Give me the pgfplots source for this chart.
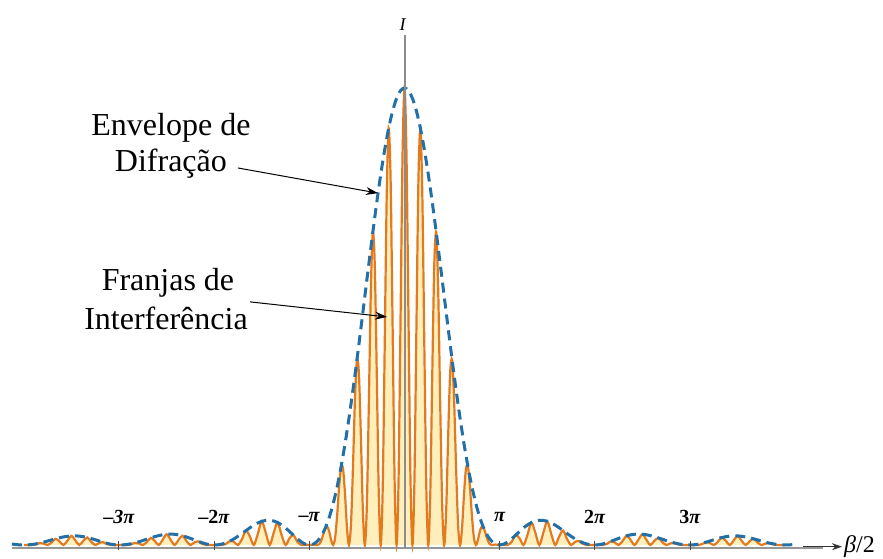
\documentclass[border=0pt]{standalone}
\usepackage{pgfplots}
\pgfplotsset{compat=1.18}
\usepackage{pgfplotstable}
\usetikzlibrary{arrows.meta}
\usepackage{fontspec}
\setmainfont{Liberation Serif}

\definecolor{fringe}{RGB}{228,122,30}
\definecolor{fringefill}{RGB}{255,239,188}
\definecolor{env}{RGB}{35,112,168}
\definecolor{axisgray}{RGB}{150,150,150}
\tikzset{ticklab/.style={inner sep=0pt, font=\fontsize{10}{11}\selectfont\bfseries}}

% x in units of pi/48 (beta/2), y = relative intensity
\pgfplotstableread{
k I
-192 0
-190 0.00013
-188 0
-186 0.00119
-184 0.00414
-182 0.00314
-180 0
-178 0.00557
-176 0.01356
-174 0.00790
-172 0
-170 0.00953
-168 0.01985
-166 0.01000
-164 0
-162 0.00911
-160 0.01641
-158 0.00707
-156 0
-154 0.00438
-152 0.00606
-150 0.00183
-148 0
-146 0.00023
-144 0
-142 0.00015
-140 0
-138 0.00130
-136 0.00457
-134 0.00350
-132 0
-130 0.00631
-128 0.01549
-126 0.00910
-124 0
-122 0.01118
-120 0.02351
-118 0.01195
-116 0
-114 0.01112
-112 0.02024
-110 0.00881
-108 0
-106 0.00558
-104 0.00782
-102 0.00238
-100 0
-98 0.00030
-96 0
-94 0.00026
-92 0
-90 0.00243
-88 0.00867
-86 0.00673
-84 0
-82 0.01257
-80 0.03146
-78 0.01883
-76 0
-74 0.02410
-72 0.05179
-70 0.02693
-68 0
-66 0.02630
-64 0.04916
-62 0.02198
-60 0
-58 0.01479
-56 0.02140
-54 0.00674
-52 0
-50 0.00092
-48 0
-47 0.00038
-46 0.00094
-45 0.00064
-44 0
-43 0.00191
-42 0.00969
-41 0.02319
-40 0.03648
-39 0.04043
-38 0.02996
-37 0.01086
-36 0
-35 0.01578
-34 0.06355
-33 0.12650
-32 0.17098
-31 0.16678
-30 0.11070
-29 0.03645
-28 0
-27 0.04511
-26 0.16973
-25 0.31744
-24 0.40528
-23 0.37506
-22 0.23705
-21 0.07457
-20 0
-19 0.08492
-18 0.30750
-17 0.55459
-16 0.68391
-15 0.61224
-14 0.37483
-13 0.11435
-12 0
-11 0.12283
-10 0.43256
-9 0.75929
-8 0.91189
-7 0.79548
-6 0.47482
-5 0.14130
-4 0
-3 0.14458
-2 0.49715
-1 0.85233
0 1.00000
1 0.85233
2 0.49715
3 0.14458
4 0
5 0.14130
6 0.47482
7 0.79548
8 0.91189
9 0.75929
10 0.43256
11 0.12283
12 0
13 0.11435
14 0.37483
15 0.61224
16 0.68391
17 0.55459
18 0.30750
19 0.08492
20 0
21 0.07457
22 0.23705
23 0.37506
24 0.40528
25 0.31744
26 0.16973
27 0.04511
28 0
29 0.03645
30 0.11070
31 0.16678
32 0.17098
33 0.12650
34 0.06355
35 0.01578
36 0
37 0.01086
38 0.02996
39 0.04043
40 0.03648
41 0.02319
42 0.00969
43 0.00191
44 0
45 0.00064
46 0.00094
47 0.00038
48 0
50 0.00092
52 0
54 0.00674
56 0.02140
58 0.01479
60 0
62 0.02198
64 0.04916
66 0.02630
68 0
70 0.02693
72 0.05179
74 0.02410
76 0
78 0.01883
80 0.03146
82 0.01257
84 0
86 0.00673
88 0.00867
90 0.00243
92 0
94 0.00026
96 0
98 0.00030
100 0
102 0.00238
104 0.00782
106 0.00558
108 0
110 0.00881
112 0.02024
114 0.01112
116 0
118 0.01195
120 0.02351
122 0.01118
124 0
126 0.00910
128 0.01549
130 0.00631
132 0
134 0.00350
136 0.00457
138 0.00130
140 0
142 0.00015
144 0
146 0.00023
148 0
150 0.00183
152 0.00606
154 0.00438
156 0
158 0.00707
160 0.01641
162 0.00911
164 0
166 0.01000
168 0.01985
170 0.00953
172 0
174 0.00790
176 0.01356
178 0.00557
180 0
182 0.00314
184 0.00414
186 0.00119
188 0
190 0.00013
192 0
}\fringes

\pgfplotstableread{
k E
-198 0.00209
-196 0.00098
-194 0.00025
-192 0
-190 0.00026
-188 0.00106
-186 0.00237
-184 0.00414
-182 0.00627
-180 0.00865
-178 0.01113
-176 0.01356
-174 0.01580
-172 0.01767
-170 0.01906
-168 0.01985
-166 0.01999
-164 0.01944
-162 0.01822
-160 0.01641
-158 0.01413
-156 0.01151
-154 0.00876
-152 0.00606
-150 0.00365
-148 0.00171
-146 0.00045
-144 0
-142 0.00029
-140 0.00116
-138 0.00260
-136 0.00457
-134 0.00699
-132 0.00971
-130 0.01261
-128 0.01549
-126 0.01820
-124 0.02054
-122 0.02235
-120 0.02351
-118 0.02390
-116 0.02347
-114 0.02223
-112 0.02024
-110 0.01761
-108 0.01451
-106 0.01116
-104 0.00782
-102 0.00476
-100 0.00227
-98 0.00060
-96 0
-94 0.00052
-92 0.00213
-90 0.00485
-88 0.00867
-86 0.01345
-84 0.01902
-82 0.02513
-80 0.03146
-78 0.03766
-76 0.04337
-74 0.04819
-72 0.05179
-70 0.05385
-68 0.05417
-66 0.05260
-64 0.04916
-62 0.04396
-60 0.03729
-58 0.02957
-56 0.02140
-54 0.01348
-52 0.00665
-50 0.00183
-48 0
-46 0.00188
-44 0.00808
-42 0.01938
-40 0.03648
-38 0.05991
-36 0.09007
-34 0.12710
-32 0.17098
-30 0.22140
-28 0.27781
-26 0.33945
-24 0.40528
-22 0.47410
-20 0.54451
-18 0.61500
-16 0.68391
-14 0.74965
-12 0.81057
-10 0.86512
-8 0.91189
-6 0.94963
-4 0.97736
-2 0.99430
0 1
2 0.99430
4 0.97736
6 0.94963
8 0.91189
10 0.86512
12 0.81057
14 0.74965
16 0.68391
18 0.61500
20 0.54451
22 0.47410
24 0.40528
26 0.33945
28 0.27781
30 0.22140
32 0.17098
34 0.12710
36 0.09007
38 0.05991
40 0.03648
42 0.01938
44 0.00808
46 0.00188
48 0
50 0.00183
52 0.00665
54 0.01348
56 0.02140
58 0.02957
60 0.03729
62 0.04396
64 0.04916
66 0.05260
68 0.05417
70 0.05385
72 0.05179
74 0.04819
76 0.04337
78 0.03766
80 0.03146
82 0.02513
84 0.01902
86 0.01345
88 0.00867
90 0.00485
92 0.00213
94 0.00052
96 0
98 0.00060
100 0.00227
102 0.00476
104 0.00782
106 0.01116
108 0.01451
110 0.01761
112 0.02024
114 0.02223
116 0.02347
118 0.02390
120 0.02351
122 0.02235
124 0.02054
126 0.01820
128 0.01549
130 0.01261
132 0.00971
134 0.00699
136 0.00457
138 0.00260
140 0.00116
142 0.00029
144 0
146 0.00045
148 0.00171
150 0.00365
152 0.00606
154 0.00876
156 0.01151
158 0.01413
160 0.01641
162 0.01822
164 0.01944
166 0.01999
168 0.01985
170 0.01906
172 0.01767
174 0.01580
176 0.01356
178 0.01113
180 0.00865
182 0.00627
184 0.00414
186 0.00237
188 0.00106
190 0.00026
192 0
194 0.00025
196 0.00098
198 0.00209
}\envelope

\begin{document}
\begin{tikzpicture}
\begin{axis}[
    scale only axis,
    width=441.5pt, height=277.5pt,
    xmin=-204.0, xmax=241.3,
    ymin=-0.02188, ymax=1.1926,
    hide axis,
    clip=false,
]
\path (rel axis cs:0,0) rectangle (rel axis cs:1,1);

% fringes
\addplot[draw=none, fill=fringefill, smooth] table[x=k, y=I] {\fringes} \closedcycle;
\addplot[fringe, line width=1.1pt, smooth] table[x=k, y=I] {\fringes};

% diffraction envelope
\addplot[env, line width=1.5pt, dash pattern=on 5pt off 3pt, smooth] table[x=k, y=E] {\envelope};

% axes
\draw[axisgray, line width=1pt] (axis cs:-198,-0.00656) -- (axis cs:211.1,-0.00656);
\draw[black!80, line width=0.5pt, -{Stealth[length=5pt,width=3.5pt]}] (axis cs:201,-0.0037) -- (axis cs:220.6,-0.0037);
\node[anchor=base west, inner sep=0pt, font=\fontsize{12}{14}\selectfont] at (axis cs:221.5,-0.0175) {\textit{β}/2};
\draw[black!45, line width=0.6pt] (axis cs:0.25,-0.0066) -- (axis cs:0.25,1.116);
\node[inner sep=0pt, font=\fontsize{9}{10}\selectfont] at (axis cs:-0.76,1.138) {\textit{I}};

% ticks on the beta/2 axis
\foreach \t in {-144,-96,-48,48,96,144} {
    \edef\temp{\noexpand\draw[black!70, line width=0.5pt] (axis cs:\t,-0.0109) -- (axis cs:\t,0.00766);}
    \temp
}
\node[ticklab] at (axis cs:-144,0.0613) {–\textit{3π}};
\node[ticklab] at (axis cs:-96,0.0613) {–2\textit{π}};
\node[ticklab] at (axis cs:-48,0.0613) {–\textit{π}};
\node[ticklab] at (axis cs:48,0.0613) {\textit{π}};
\node[ticklab] at (axis cs:96,0.0613) {2\textit{π}};
\node[ticklab] at (axis cs:144,0.0613) {3\textit{π}};

% annotations
\node[anchor=base, inner sep=0pt, font=\fontsize{16}{18}\selectfont] at (axis cs:-117.8,0.8953) {Envelope de};
\node[anchor=base, inner sep=0pt, font=\fontsize{16}{18}\selectfont] at (axis cs:-117.8,0.8168) {Difração};
\draw[black, line width=0.5pt, -{Stealth[length=6pt,width=4pt]}] (axis cs:-84.0,0.825) -- (axis cs:-13.4,0.770);
\node[anchor=base, inner sep=0pt, font=\fontsize{16}{18}\selectfont] at (axis cs:-119.3,0.5560) {Franjas de};
\node[anchor=base, inner sep=0pt, font=\fontsize{16}{18}\selectfont] at (axis cs:-120.3,0.4705) {Interferência};
\draw[black, line width=0.5pt, -{Stealth[length=6pt,width=4pt]}] (axis cs:-77.9,0.532) -- (axis cs:-8.8,0.499);
\end{axis}
\end{tikzpicture}
\end{document}
